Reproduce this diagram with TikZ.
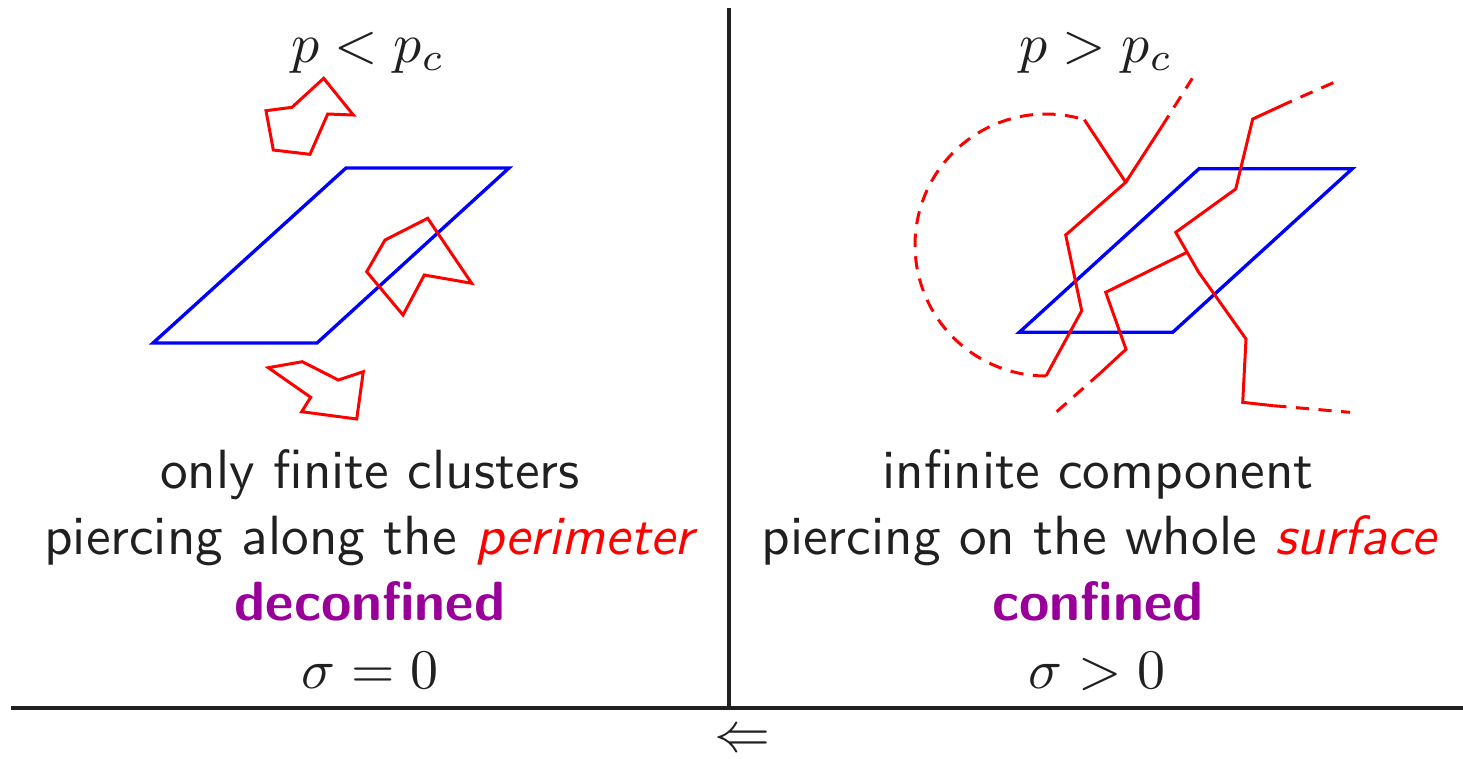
\documentclass[tikz,border=0pt]{standalone}
\definecolor{myred}{rgb}{1,0,0}
\definecolor{myblue}{rgb}{0,0,1}
\definecolor{mypurple}{rgb}{0.6,0,0.6}
\definecolor{ink}{rgb}{0.13,0.12,0.12}
\newcommand{\bigmath}[1]{\scalebox{3.18}{\fontsize{10}{12}\selectfont$#1$}}
\newcommand{\bigtext}[1]{\scalebox{3.145}{\fontsize{10}{12}\selectfont #1}}
\begin{document}
\begin{tikzpicture}[x=0.02cm,y=-0.02cm,
  sheet/.style={draw=myblue, line width=1.9pt},
  cluster/.style={draw=myred, line width=1.7pt},
  ghost/.style={cluster, dash pattern=on 7.5pt off 5.4pt},
  rulestyle/.style={draw=ink, line width=2.4pt},
  lbl/.style={anchor=base, inner sep=0pt, text=ink, font=\sffamily},
  state/.style={lbl, text=mypurple, font=\sffamily\bfseries}]
\useasboundingbox (0,0) rectangle (1463,758);

% frame lines
\coordinate (hl) at (11,708);
\coordinate (hr) at (1463,708);
\coordinate (vt) at (729,8);
\coordinate (vb) at (729,708);
\draw[rulestyle] (hl) -- (hr);
\draw[rulestyle] (vt) -- (vb);

% ---------- left panel ----------
\draw[sheet] (153,343) -- (317,343) -- (509,168) -- (346,168) -- cycle;
\draw[cluster] (266,110.7) -- (292,107.3) -- (323.7,78.3) -- (353.3,115) -- (327.7,114) -- (310,154.3) -- (273.3,150) -- cycle;
\draw[cluster] (385,240) -- (427.7,218.3) -- (471.7,283.3) -- (424.3,275) -- (403,315) -- (366.7,271.7) -- cycle;
\draw[cluster] (268.3,367.7) -- (302.3,361.7) -- (338.3,380) -- (363.3,371.7) -- (356.7,419) -- (301.7,411.7) -- (310.7,397.3) -- cycle;

% ---------- right panel ----------
\draw[sheet] (1019.3,332.3) -- (1172.7,332.3) -- (1352.3,168.7) -- (1199,168.7) -- cycle;

% loop: dashed arc + solid part
\coordinate (arcS) at ({1046+131*cos(270)},{245-131*sin(270)});
\coordinate (arcE) at ({1046+131*cos(73)},{245-131*sin(73)});
\coordinate (jA) at (1125.7,182.3);
\draw[ghost] plot[domain=270:73, samples=80, smooth] ({1046+131*cos(\x)},{245-131*sin(\x)});
\draw[cluster] (arcE) -- (jA) -- (1065.7,235) -- (1081.7,310.7) -- (arcS);

% branch B
\coordinate (bS) at (1161.7,126.7);
\coordinate (bE) at (1192.3,78.3);
\draw[cluster] (jA) -- (bS);
\draw[ghost] (bS) -- (bE);

% path D
\coordinate (dA) at (1333.3,82.7);
\coordinate (dB) at (1291.7,101);
\coordinate (dJ) at (1187.0,252.3);
\coordinate (dY) at (1273.3,405.7);
\coordinate (dZ) at (1350,412.3);
\draw[ghost] (dA) -- (dB);
\draw[cluster] (dB) -- (1252.7,119) -- (1235.7,189) -- (1175.7,232.3) -- (1198.3,271.7) -- (1246,339) -- (1242.7,402.3) -- (dY);
\draw[ghost] (dY) -- (dZ);

% path C
\coordinate (cA) at (1056.7,411.7);
\coordinate (cB) at (1100,373.3);
\draw[ghost] (cA) -- (cB);
\draw[cluster] (cB) -- (1126,349.3) -- (1105.7,292.3) -- (dJ);

% ---------- texts ----------
\node[lbl] (tl) at (368,62) {\bigmath{p<p_c}};
\node[lbl] (tr) at (1096,62) {\bigmath{p>p_c}};

\node[lbl] (l1) at (370,488) {\bigtext{only finite clusters}};
\node[lbl] (l2) at (369,554) {\bigtext{piercing along the {\itshape\color{myred}perimeter}}};
\node[state] (l3) at (370,620) {\bigtext{deconfined}};
\node[lbl] (l4) at (370,688) {\bigmath{\sigma=0}};

\node[lbl] (r1) at (1098,488) {\bigtext{infinite component}};
\node[lbl] (r2) at (1099,554) {\bigtext{piercing on the whole {\itshape\color{myred}surface}}};
\node[state] (r3) at (1098,620) {\bigtext{confined}};
\node[lbl] (r4) at (1097,688) {\bigmath{\sigma>0}};

\node[lbl, anchor=center] (arr) at (742,741) {\bigmath{\Leftarrow}};
\end{tikzpicture}
\end{document}
